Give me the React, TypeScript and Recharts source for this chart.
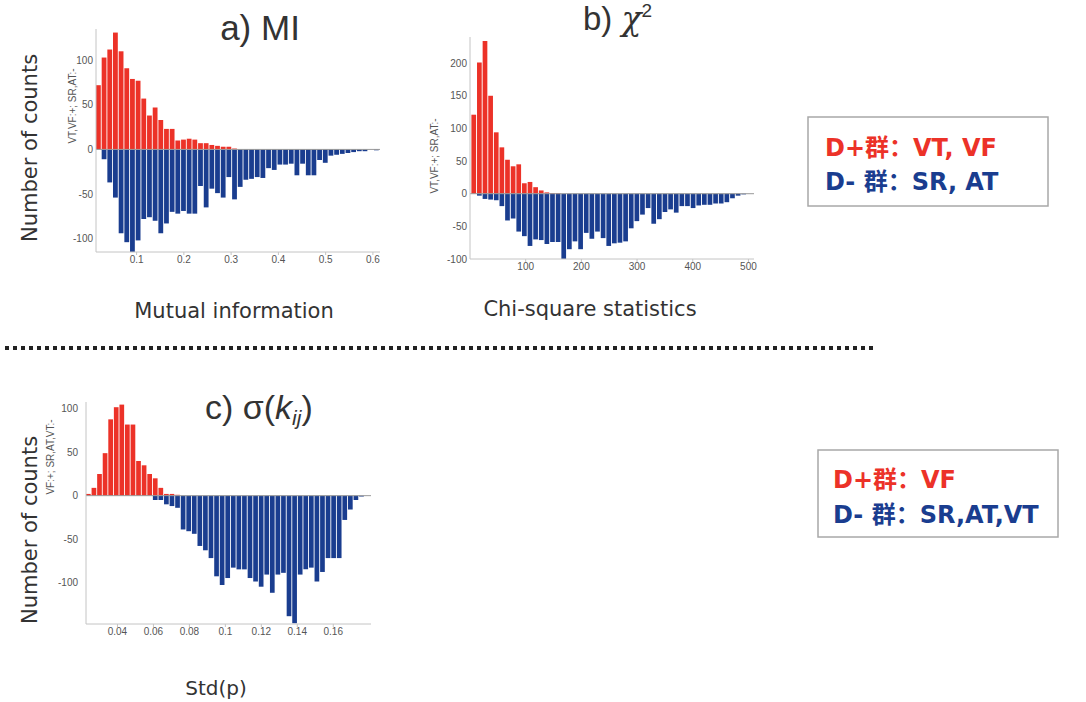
import { Bar, BarChart, ReferenceLine, XAxis, YAxis } from "recharts";

// a) mutual information histogram
const miStart = 0.0141;
const miStep = 0.012;
const miPos = [
  72, 103, 112, 131, 110, 91, 79, 77, 57, 38, 47, 33, 23, 23, 10, 11, 12, 11,
  7, 7, 5, 4, 3, 3, 1, 0, 0, 0, 0, 0, 0, 0, 0, 0, 0, 0, 0, 0, 0, 0, 0, 0, 0, 0,
  0, 0, 0, 0, 0, 0,
];
const miNeg = [
  0, -11, -37, -54, -94, -104, -115, -102, -78, -76, -80, -94, -83, -70, -72,
  -69, -72, -72, -41, -65, -44, -49, -54, -31, -56, -42, -34, -33, -31, -32,
  -21, -23, -17, -17, -16, -29, -16, -29, -29, -12, -15, -7, -6, -5, -4, -3, -2,
  -2, 0, -1,
];
const miTicks = [0.1, 0.2, 0.3, 0.4, 0.5, 0.6];

// b) chi-square histogram
const chiStart = 2.5;
const chiStep = 10.1;
const chiPos = [
  121, 201, 234, 150, 94, 71, 52, 42, 45, 16, 18, 10, 5, 2, 1, 1, 0, 0, 0, 0, 0,
  0, 0, 0, 0, 0, 0, 0, 0, 0, 0, 0, 0, 0, 0, 0, 0, 0, 0, 0, 0, 0, 0, 0, 0, 0, 0,
  0, 0, 0,
];
const chiNeg = [
  0, -3, -8, -9, -10, -19, -41, -38, -58, -65, -80, -70, -71, -77, -74, -74,
  -100, -85, -73, -85, -60, -69, -58, -68, -80, -76, -75, -73, -53, -42, -32,
  -22, -46, -39, -28, -24, -29, -19, -19, -22, -18, -17, -17, -15, -15, -13, -7,
  -3, -1, 0,
];
const chiTicks = [100, 200, 300, 400, 500];

// c) std of k_ij histogram
const sdStart = 0.0225;
const sdStep = 0.0031;
const sdPos = [
  2, 9, 25, 49, 88, 102, 105, 82, 82, 40, 35, 25, 20, 9, 2, 2, 1, 0, 0, 0, 0, 0,
  0, 0, 0, 0, 0, 0, 0, 0, 0, 0, 0, 0, 0, 0, 0, 0, 0, 0, 0, 0, 0, 0, 0, 0, 0, 0,
  0, 0,
];
const sdNeg = [
  0, 0, 0, 0, 0, 0, 0, 0, 0, 0, 0, 0, -5, -5, -10, -12, -14, -39, -41, -44, -58,
  -63, -72, -93, -103, -95, -83, -85, -85, -95, -99, -105, -91, -112, -91, -89,
  -139, -147, -91, -85, -83, -99, -88, -72, -72, -72, -28, -16, -5, -1,
];
const sdTicks = [0.04, 0.06, 0.08, 0.1, 0.12, 0.14, 0.16];

const RED = "#ec3228";
const BLUE = "#1a3d8f";
const TEXT = "#333";

function bins(start: number, step: number, pos: number[], neg: number[]) {
  return pos.map((p, i) => ({ x: start + (i + 0.5) * step, pos: p, neg: neg[i] }));
}

type HistProps = {
  data: { x: number; pos: number; neg: number }[];
  left: number;
  top: number;
  width: number;
  height: number;
  xDomain: [number, number];
  xTicks: number[];
  yDomain: [number, number];
  yTicks: number[];
  barSize: number;
  yGap?: number;
};

function Hist(p: HistProps) {
  const tick = { fill: "#555", fontSize: 10, fontFamily: "Liberation Sans, Arial" };
  return (
    <div style={{ position: "absolute", left: p.left, top: p.top }}>
      <BarChart
        width={p.width + 12}
        height={p.height}
        data={p.data}
        margin={{ top: 0, right: 12, bottom: 0, left: 0 }}
        stackOffset="sign"
      >
        <XAxis
          type="number"
          dataKey="x"
          domain={p.xDomain}
          ticks={p.xTicks}
          allowDataOverflow
          interval={0}
          height={20}
          stroke="#c4c4c4"
          tick={tick}
          tickSize={3}
          tickMargin={1}
          tickFormatter={(v) => String(Number(v.toFixed(3)))}
        />
        <YAxis
          type="number"
          domain={p.yDomain}
          ticks={p.yTicks}
          allowDataOverflow
          interval={0}
          width={34}
          stroke="#c4c4c4"
          tick={tick}
          tickLine={false}
          tickSize={0}
          tickMargin={p.yGap ?? 3}
        />
        <ReferenceLine y={0} stroke="#999" />
        <Bar dataKey="pos" stackId="s" fill={RED} barSize={p.barSize} isAnimationActive={false} />
        <Bar dataKey="neg" stackId="s" fill={BLUE} barSize={p.barSize} isAnimationActive={false} />
      </BarChart>
    </div>
  );
}

export default function App() {
  const font = "'DejaVu Sans', 'Noto Sans CJK SC', sans-serif";
  const titleFont = "'Liberation Sans', Arial, sans-serif";
  const legendFont = "'DejaVu Sans', 'Noto Sans CJK SC', sans-serif";
  return (
    <div
      style={{
        position: "absolute",
        left: 0,
        top: 0,
        width: 1086,
        height: 702,
        background: "#fff",
        fontFamily: font,
      }}
    >
      <Hist
        data={bins(miStart, miStep, miPos, miNeg)}
        left={62}
        top={29}
        width={318}
        height={243}
        xDomain={[0.0141, 0.615]}
        xTicks={miTicks}
        yDomain={[-115, 135]}
        yTicks={[-100, -50, 0, 50, 100]}
        barSize={4.8}
      />
      <Hist
        data={bins(chiStart, chiStep, chiPos, chiNeg)}
        left={436}
        top={37}
        width={318}
        height={242}
        xDomain={[0, 510]}
        xTicks={chiTicks}
        yDomain={[-100, 240]}
        yTicks={[-100, -50, 0, 50, 100, 150, 200]}
        barSize={4.7}
      />
      <Hist
        data={bins(sdStart, sdStep, sdPos, sdNeg)}
        left={52}
        top={402}
        width={319}
        height={242}
        xDomain={[0.0225, 0.181]}
        xTicks={sdTicks}
        yDomain={[-148, 108]}
        yTicks={[-100, -50, 0, 50, 100]}
        barSize={4.7}
        yGap={8}
      />

      <svg
        width={1086}
        height={702}
        style={{ position: "absolute", left: 0, top: 0, pointerEvents: "none" }}
      >
        {/* titles */}
        <text x={260} y={40} textAnchor="middle" fontSize={35} fill={TEXT} fontFamily={titleFont}>
          a) MI
        </text>
        <text x={583} y={30} fontSize={33} fill={TEXT} fontFamily={titleFont}>
          b){" "}
          <tspan fontFamily="'DejaVu Serif', serif" fontStyle="italic">
            χ
          </tspan>
          <tspan dy={-13} fontSize={19}>
            2
          </tspan>
        </text>
        <text x={205} y={419} fontSize={34} fill={TEXT} fontFamily={titleFont}>
          c) σ(
          <tspan fontStyle="italic">k</tspan>
          <tspan fontStyle="italic" fontSize={21} dy={6}>
            ij
          </tspan>
          <tspan dy={-6}>)</tspan>
        </text>

        {/* y labels */}
        <text
          transform="translate(30,148) rotate(-90)"
          textAnchor="middle"
          dominantBaseline="central"
          fontSize={21}
          fill={TEXT}
        >
          Number of counts
        </text>
        <text
          transform="translate(30,530) rotate(-90)"
          textAnchor="middle"
          dominantBaseline="central"
          fontSize={21}
          fill={TEXT}
        >
          Number of counts
        </text>
        <text
          transform="translate(72,106) rotate(-90)"
          textAnchor="middle"
          dominantBaseline="central"
          fontSize={10}
          fill="#555"
          fontFamily="Liberation Sans, Arial"
        >
          VT,VF:+; SR,AT:-
        </text>
        <text
          transform="translate(434,156) rotate(-90)"
          textAnchor="middle"
          dominantBaseline="central"
          fontSize={10}
          fill="#555"
          fontFamily="Liberation Sans, Arial"
        >
          VT,VF:+; SR,AT:-
        </text>
        <text
          transform="translate(50,457) rotate(-90)"
          textAnchor="middle"
          dominantBaseline="central"
          fontSize={10}
          fill="#555"
          fontFamily="Liberation Sans, Arial"
        >
          VF:+; SR,AT,VT:-
        </text>

        {/* x labels */}
        <text x={234} y={318} textAnchor="middle" fontSize={21} fill={TEXT}>
          Mutual information
        </text>
        <text x={590} y={316} textAnchor="middle" fontSize={21} fill={TEXT}>
          Chi-square statistics
        </text>
        <text x={216} y={695} textAnchor="middle" fontSize={20} fill={TEXT}>
          Std(p)
        </text>

        {/* separator */}
        <line x1={5} y1={348} x2={877} y2={348} stroke="#222" strokeWidth={4} strokeDasharray="4 4" />

        {/* legends */}
        <rect x={808} y={117} width={240} height={89} fill="none" stroke="#a8a8a8" strokeWidth={1.5} />
        <text x={825} y={156} fontSize={24} fontWeight="bold" fill={RED} fontFamily={legendFont}>
          D+群：VT, VF
        </text>
        <text x={825} y={190} fontSize={24} fontWeight="bold" fill={BLUE} fontFamily={legendFont}>
          D- 群：SR, AT
        </text>
        <rect x={818} y={450} width={240} height={87} fill="none" stroke="#a8a8a8" strokeWidth={1.5} />
        <text x={833} y={488} fontSize={24} fontWeight="bold" fill={RED} fontFamily={legendFont}>
          D+群：VF
        </text>
        <text x={833} y={523} fontSize={24} fontWeight="bold" fill={BLUE} fontFamily={legendFont}>
          D- 群：SR,AT,VT
        </text>
      </svg>
    </div>
  );
}
